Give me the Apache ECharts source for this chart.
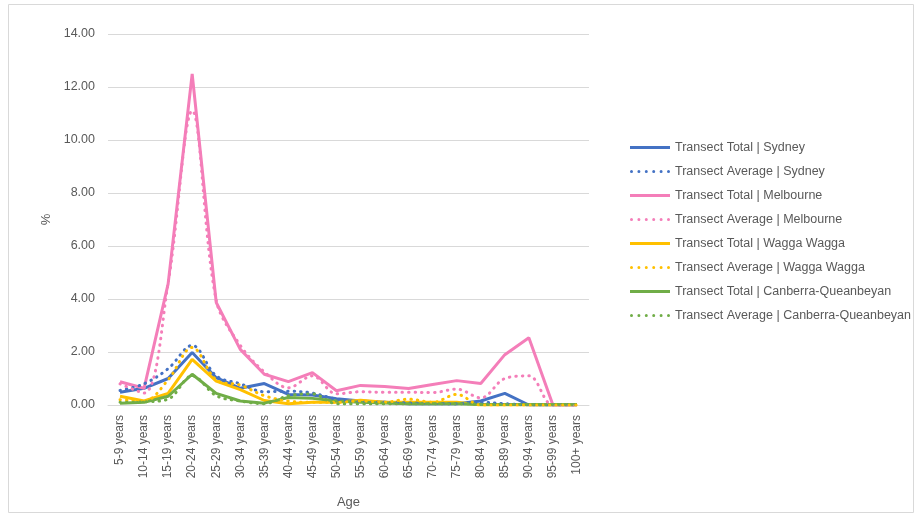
<!DOCTYPE html>
<html lang="en">
<head>
    <meta charset="UTF-8"/>
    <title>Age profile</title>
    <script src="https://cdn.jsdelivr.net/npm/echarts@6/dist/echarts.min.js"></script>
    <style>
        body { margin: 0; background: #fff; }
    </style>
</head>
<body>
<div id="main" style="width: 916px;height:514px;"></div>

<script type="text/javascript">
    // age groups on the x axis
    var ages = ['5-9 years', '10-14 years', '15-19 years', '20-24 years', '25-29 years', '30-34 years',
        '35-39 years', '40-44 years', '45-49 years', '50-54 years', '55-59 years', '60-64 years',
        '65-69 years', '70-74 years', '75-79 years', '80-84 years', '85-89 years', '90-94 years',
        '95-99 years', '100+ years'];

    // values in %
    var sydneyTotal = [0.48, 0.63, 1.0, 1.98, 1.03, 0.63, 0.81, 0.4, 0.38, 0.24, 0.15, 0.1, 0.05, 0.05, 0.05, 0.15, 0.44, 0, 0, 0];
    var sydneyAvg = [0.55, 0.8, 1.37, 2.25, 1.1, 0.8, 0.5, 0.52, 0.45, 0.22, 0.12, 0.1, 0.08, 0.06, 0.05, 0.1, 0.05, 0, 0, 0];
    var melbTotal = [0.88, 0.63, 4.57, 12.49, 3.87, 2.1, 1.16, 0.88, 1.22, 0.54, 0.74, 0.7, 0.62, 0.77, 0.92, 0.81, 1.9, 2.54, 0, 0];
    var melbAvg = [0.8, 0.45, 4.6, 11.1, 3.95, 2.25, 1.25, 0.65, 1.1, 0.42, 0.5, 0.48, 0.48, 0.47, 0.6, 0.27, 1.0, 1.1, 0, 0];
    var waggaTotal = [0.33, 0.15, 0.44, 1.72, 0.9, 0.58, 0.17, 0.05, 0.1, 0.1, 0.18, 0.1, 0.1, 0.1, 0.1, 0, 0, 0, 0, 0];
    var waggaAvg = [0.2, 0.15, 0.95, 2.17, 0.95, 0.75, 0.35, 0.15, 0.1, 0.1, 0.15, 0.1, 0.22, 0.1, 0.4, 0, 0, 0, 0, 0];
    var canbTotal = [0.07, 0.1, 0.33, 1.16, 0.44, 0.15, 0.07, 0.28, 0.25, 0.15, 0.1, 0.08, 0.05, 0.05, 0.05, 0.02, 0.02, 0.02, 0.02, 0.02];
    var canbAvg = [0.1, 0.12, 0.22, 1.1, 0.35, 0.15, 0.05, 0.35, 0.42, 0.05, 0.05, 0.05, 0.05, 0.05, 0.05, 0.03, 0.02, 0.02, 0.02, 0.02];

    var names = ['Transect Total | Sydney', 'Transect Average | Sydney',
        'Transect Total | Melbourne', 'Transect Average | Melbourne',
        'Transect Total | Wagga Wagga', 'Transect Average | Wagga Wagga',
        'Transect Total | Canberra-Queanbeyan', 'Transect Average | Canberra-Queanbeyan'];
    var values = [sydneyTotal, sydneyAvg, melbTotal, melbAvg, waggaTotal, waggaAvg, canbTotal, canbAvg];
    var colors = ['#4472C4', '#4472C4', '#F47EB9', '#F47EB9', '#FFC000', '#FFC000', '#70AD47', '#70AD47'];

    // legend icons: a bar for totals, a row of round dots for averages
    var solidIcon = 'path://M0,0H40V3H0Z';
    var dotIcon = 'path://';
    for (var d = 0; d < 6; d++) {
        var cx = 1.5 + d * 7.4;
        dotIcon += 'M' + (cx - 1.5) + ',1.5a1.5,1.5 0 1,0 3,0a1.5,1.5 0 1,0 -3,0Z';
    }

    var fontFamily = '"Liberation Sans", Arial, sans-serif';
    var series = [];
    var legendData = [];
    for (var i = 0; i < names.length; i++) {
        var dotted = i % 2 == 1;
        series.push({
            name: names[i],
            type: 'line',
            data: values[i],
            symbol: 'none',
            smooth: dotted ? 0.35 : false,
            z: dotted ? 3 : 2,
            lineStyle: {
                color: colors[i],
                width: 3,
                type: dotted ? [0.5, 6] : 'solid',
                cap: dotted ? 'round' : 'butt'
            },
            itemStyle: { color: colors[i] }
        });
        legendData.push({ name: names[i], icon: dotted ? dotIcon : solidIcon });
    }

    var myChart = echarts.init(document.getElementById('main'));
    var option = {
        animation: false,
        textStyle: { fontFamily: fontFamily },
        graphic: [{
            type: 'rect',
            shape: { x: 8.5, y: 4.5, width: 905, height: 508 },
            style: { fill: 'none', stroke: '#d9d9d9', lineWidth: 1 },
            silent: true
        }],
        legend: {
            orient: 'vertical',
            left: 625,
            top: 136,
            itemWidth: 40,
            itemHeight: 3,
            itemGap: 11,
            textStyle: { color: '#595959', fontSize: 12.5, fontFamily: fontFamily },
            data: legendData
        },
        grid: { left: 108, right: 327, top: 34, bottom: 100 },
        xAxis: {
            type: 'category',
            data: ages,
            boundaryGap: true,
            name: 'Age',
            nameLocation: 'middle',
            nameGap: 91,
            nameTextStyle: { color: '#595959', fontSize: 13 },
            axisLine: { lineStyle: { color: '#d9d9d9' } },
            axisTick: { show: false },
            axisLabel: { rotate: 90, interval: 0, color: '#595959', fontSize: 12, margin: 10 }
        },
        yAxis: {
            type: 'value',
            min: 0,
            max: 14,
            interval: 2,
            name: '%',
            nameLocation: 'middle',
            nameGap: 50,
            nameTextStyle: { color: '#595959', fontSize: 13 },
            axisLine: { show: false },
            axisTick: { show: false },
            axisLabel: {
                color: '#595959', fontSize: 12.5, margin: 13,
                formatter: function (v) { return v.toFixed(2); }
            },
            splitLine: { lineStyle: { color: '#d9d9d9' } }
        },
        series: series
    };
    myChart.setOption(option);
</script>
</body>
</html>
